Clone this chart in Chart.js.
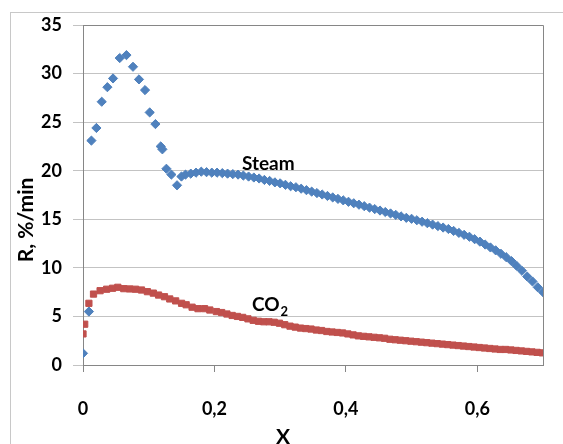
<!DOCTYPE html>
<html>
<head>
<meta charset="utf-8">
<script src="https://cdn.jsdelivr.net/npm/chart.js@4.4.1/dist/chart.umd.min.js"></script>
<style>
  html, body { margin: 0; padding: 0; background: #ffffff; }
  #wrap { width: 563px; height: 444px; position: relative; }
</style>
</head>
<body>
<div id="wrap"><canvas id="c" width="563" height="444"></canvas></div>
<script>
// ---------- DATA ----------
const X_TICKS = [0, 0.2, 0.4, 0.6];
const X_TICK_LABELS = ['0', '0,2', '0,4', '0,6'];
const Y_TICKS = [0, 5, 10, 15, 20, 25, 30, 35];
const Y_TICK_LABELS = ['0', '5', '10', '15', '20', '25', '30', '35'];
const X_TITLE = 'X';
const Y_TITLE = 'R, %/min';
const STEAM_NAME = 'Steam';
const CO2_NAME = 'CO';
const CO2_SUB = '2';

const STEAM_X = [0, 0.009, 0.0128, 0.0204, 0.0285, 0.0371, 0.0457, 0.0559, 0.0661, 0.0761,
  0.0852, 0.0944, 0.1015, 0.1102, 0.1183, 0.1208, 0.1269, 0.1345, 0.1431, 0.1498,
  0.156, 0.164, 0.172, 0.180, 0.188, 0.196, 0.204, 0.212, 0.220, 0.228,
  0.236, 0.244, 0.252, 0.260, 0.268, 0.276, 0.284, 0.292, 0.300, 0.308,
  0.316, 0.324, 0.332, 0.340, 0.348, 0.356, 0.364, 0.372, 0.380, 0.388,
  0.396, 0.404, 0.412, 0.420, 0.428, 0.436, 0.444, 0.452, 0.460, 0.468,
  0.476, 0.484, 0.492, 0.500, 0.508, 0.516, 0.524, 0.532, 0.540, 0.548,
  0.556, 0.564, 0.572, 0.580, 0.588, 0.596, 0.604, 0.612, 0.620, 0.628,
  0.636, 0.644, 0.652, 0.660, 0.668, 0.676, 0.684, 0.692, 0.700];
const STEAM_R = [1.2, 5.5, 23.1, 24.4, 27.1, 28.6, 29.5, 31.6, 31.9, 30.7,
  29.4, 28.3, 26.0, 24.8, 22.5, 22.2, 20.2, 19.6, 18.5, 19.4,
  19.6, 19.7, 19.8, 19.9, 19.85, 19.8, 19.8, 19.75, 19.7, 19.65,
  19.6, 19.5, 19.4, 19.3, 19.2, 19.05, 18.95, 18.8, 18.7, 18.55,
  18.4, 18.3, 18.15, 18.0, 17.85, 17.7, 17.55, 17.4, 17.25, 17.1,
  16.95, 16.8, 16.65, 16.5, 16.35, 16.2, 16.05, 15.9, 15.75, 15.6,
  15.45, 15.3, 15.15, 15.05, 14.9, 14.75, 14.6, 14.45, 14.3, 14.15,
  14.0, 13.8, 13.6, 13.4, 13.2, 12.95, 12.7, 12.4, 12.1, 11.8,
  11.45, 11.1, 10.7, 10.2, 9.7, 9.1, 8.6, 8.0, 7.5];

const CO2_X = [0, 0.0026, 0.009, 0.016, 0.026, 0.036, 0.045, 0.053, 0.062, 0.071,
  0.080, 0.089, 0.098, 0.107, 0.115, 0.124, 0.132, 0.141, 0.150, 0.157,
  0.166, 0.175, 0.185, 0.193, 0.203,
  0.211, 0.219, 0.227, 0.235, 0.243, 0.251, 0.259, 0.267, 0.275, 0.283,
  0.291, 0.299, 0.307, 0.315, 0.323, 0.331, 0.339, 0.347, 0.355, 0.363,
  0.371, 0.379, 0.387, 0.395, 0.403, 0.411, 0.419, 0.427, 0.435, 0.443,
  0.451, 0.459, 0.467, 0.475, 0.483, 0.491, 0.499, 0.507, 0.515, 0.523,
  0.531, 0.539, 0.547, 0.555, 0.563, 0.571, 0.579, 0.587, 0.595, 0.603,
  0.611, 0.619, 0.627, 0.635, 0.643, 0.651, 0.659, 0.667, 0.675, 0.683,
  0.691, 0.699];
const CO2_R = [3.2, 4.2, 6.35, 7.3, 7.65, 7.8, 7.9, 8.0, 7.86, 7.83,
  7.8, 7.72, 7.55, 7.4, 7.2, 7.03, 6.8, 6.6, 6.35, 6.2,
  5.95, 5.8, 5.8, 5.66, 5.5,
  5.4, 5.25, 5.1, 5.0, 4.9, 4.75, 4.6, 4.5, 4.45, 4.45,
  4.4, 4.3, 4.15, 4.0, 3.9, 3.8, 3.75, 3.7, 3.6, 3.55,
  3.45, 3.4, 3.35, 3.3, 3.2, 3.1, 3.0, 2.95, 2.9, 2.85,
  2.8, 2.75, 2.65, 2.6, 2.55, 2.5, 2.45, 2.4, 2.35, 2.3,
  2.25, 2.2, 2.15, 2.1, 2.05, 2.0, 1.95, 1.9, 1.85, 1.8,
  1.75, 1.7, 1.65, 1.6, 1.6, 1.55, 1.5, 1.45, 1.4, 1.35,
  1.3, 1.25];

// label anchors in data units
const STEAM_LABEL_AT = { x: 0.282, y: 20.75 };
const CO2_LABEL_AT = { x: 0.257, y: 6.2 };

// ---------- STYLE ----------
const FONT = 'Lato, "Open Sans", sans-serif';
const BLUE = '#4F81BD';
const RED = '#C0504D';
const AXIS = '#868686';
const GRID = '#C3C3C3';

const decorPlugin = {
  id: 'decor',
  beforeDraw(chart) {
    const ctx = chart.ctx;
    ctx.save();
    ctx.fillStyle = '#ffffff';
    ctx.fillRect(0, 0, chart.width, chart.height);
    ctx.strokeStyle = '#C8C8C8';
    ctx.lineWidth = 1;
    ctx.strokeRect(10.5, 12.5, 700, 600);
    ctx.restore();
  },
  beforeDatasetsDraw(chart) {
    const { ctx, chartArea: a } = chart;
    ctx.save();
    ctx.strokeStyle = AXIS;
    ctx.lineWidth = 1;
    ctx.beginPath();
    ctx.moveTo(Math.round(a.left) + 0.5, Math.round(a.top) + 0.5);
    ctx.lineTo(Math.round(a.right) + 0.5, Math.round(a.top) + 0.5);
    ctx.lineTo(Math.round(a.right) + 0.5, Math.round(a.bottom) + 0.5);
    ctx.stroke();
    ctx.restore();
  },
  afterDatasetsDraw(chart) {
    const { ctx, scales: { x, y } } = chart;
    ctx.save();
    ctx.fillStyle = '#000000';
    // axis titles
    ctx.font = 'bold 21px ' + FONT;
    ctx.textAlign = 'center';
    ctx.textBaseline = 'middle';
    ctx.fillText(X_TITLE, 283, 437);
    ctx.save();
    ctx.translate(26, 220);
    ctx.rotate(-Math.PI / 2);
    ctx.fillText(Y_TITLE, 0, 0);
    ctx.restore();
    // series labels
    ctx.font = 'bold 19px ' + FONT;
    ctx.textAlign = 'center';
    ctx.fillText(STEAM_NAME, x.getPixelForValue(STEAM_LABEL_AT.x), y.getPixelForValue(STEAM_LABEL_AT.y));
    ctx.textAlign = 'left';
    const cx = x.getPixelForValue(CO2_LABEL_AT.x);
    const cy = y.getPixelForValue(CO2_LABEL_AT.y);
    ctx.fillText(CO2_NAME, cx, cy);
    const w = ctx.measureText(CO2_NAME).width;
    ctx.font = 'bold 13px ' + FONT;
    ctx.fillText(CO2_SUB, cx + w + 1, cy + 7);
    ctx.restore();
  }
};

new Chart(document.getElementById('c'), {
  type: 'scatter',
  data: {
    datasets: [
      {
        label: STEAM_NAME,
        data: STEAM_X.map((v, i) => ({ x: v, y: STEAM_R[i] })),
        pointStyle: 'rectRot',
        pointRadius: 4.6,
        pointBorderWidth: 1,
        backgroundColor: BLUE,
        borderColor: BLUE,
        showLine: false
      },
      {
        label: CO2_NAME + CO2_SUB,
        data: CO2_X.map((v, i) => ({ x: v, y: CO2_R[i] })),
        pointStyle: 'rect',
        pointRadius: 4.4,
        pointBorderWidth: 1,
        backgroundColor: RED,
        borderColor: RED,
        showLine: false
      }
    ]
  },
  options: {
    responsive: false,
    animation: false,
    events: [],
    layout: { padding: { top: 25, right: 20, left: 0, bottom: 0 } },
    plugins: { legend: { display: false }, tooltip: { enabled: false } },
    scales: {
      x: {
        type: 'linear',
        min: 0,
        max: 0.7,
        afterBuildTicks: (s) => { s.ticks = X_TICKS.map(v => ({ value: v })); },
        afterFit: (s) => { s.height = 79; },
        ticks: {
          callback: (v, i) => X_TICK_LABELS[i],
          font: { family: FONT, size: 18, weight: 'bold' },
          color: '#000000',
          padding: 26,
          maxRotation: 0,
          autoSkip: false
        },
        grid: { drawOnChartArea: false, drawTicks: true, tickLength: 7, color: AXIS },
        border: { color: AXIS, width: 1 }
      },
      y: {
        type: 'linear',
        min: 0,
        max: 35,
        afterBuildTicks: (s) => { s.ticks = Y_TICKS.map(v => ({ value: v })); },
        afterFit: (s) => { s.width = 83; },
        ticks: {
          callback: (v, i) => Y_TICK_LABELS[i],
          font: { family: FONT, size: 18, weight: 'bold' },
          color: '#000000',
          padding: 11,
          autoSkip: false
        },
        grid: { drawTicks: true, tickLength: 10, color: GRID },
        border: { color: AXIS, width: 1 }
      }
    }
  },
  plugins: [decorPlugin]
});
</script>
</body>
</html>
